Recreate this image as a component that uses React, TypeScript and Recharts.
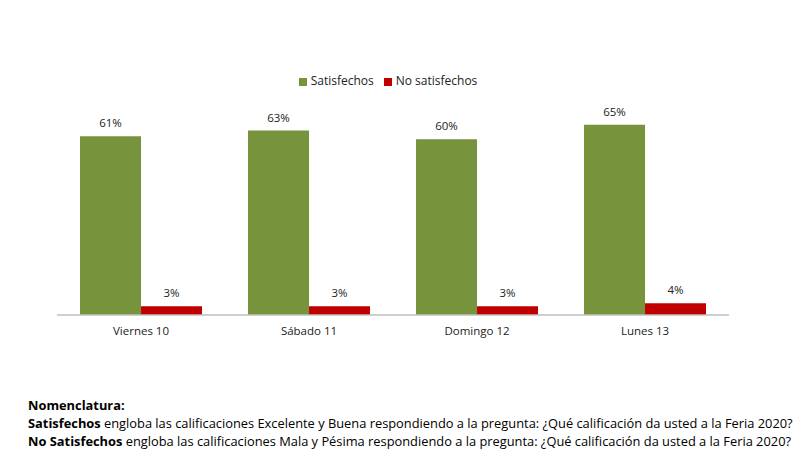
import { BarChart, Bar, XAxis, YAxis, Legend, LabelList } from 'recharts'

const DAYS = ['Viernes 10', 'Sábado 11', 'Domingo 12', 'Lunes 13']
const SATISFECHOS = [61, 63, 60, 65]
const NO_SATISFECHOS = [3, 3, 3, 4]

const GREEN = '#77933C'
const RED = '#C00000'
const FONT = '"Open Sans", "Noto Sans", sans-serif'

// keys picked so the legend's dataKey sort keeps Satisfechos first
const data = DAYS.map((day, i) => ({
  day,
  sat: SATISFECHOS[i],
  unsat: NO_SATISFECHOS[i],
}))

const labelStyle = { fill: '#222', fontSize: 11.5, fontFamily: FONT }

export default function App() {
  return (
    <div
      style={{
        position: 'absolute',
        top: 0,
        left: 0,
        width: 809,
        height: 467,
        background: '#fff',
        fontFamily: FONT,
      }}
    >
      <BarChart
        width={809}
        height={360}
        data={data}
        margin={{ top: 93, right: 80, bottom: 15, left: 57 }}
        barGap={0}
        barCategoryGap="13.7%"
      >
        <XAxis
          dataKey="day"
          axisLine={{ stroke: '#BFBFBF', strokeWidth: 1.5 }}
          tickLine={false}
          tickSize={0}
          tickMargin={12}
          tick={{ fill: '#222', fontSize: 11.5, fontFamily: FONT }}
          height={30}
        />
        <YAxis hide domain={[0, 70]} />
        <Legend
          verticalAlign="top"
          align="center"
          iconType="square"
          iconSize={8}
          itemSorter="dataKey"
          wrapperStyle={{ position: 'absolute', top: 72, fontSize: 12, fontFamily: FONT }}
          formatter={(value: string) => <span style={{ color: '#222' }}>{value}</span>}
        />
        <Bar dataKey="sat" name="Satisfechos" fill={GREEN} isAnimationActive={false}>
          <LabelList dataKey="sat" position="top" offset={9} formatter={(v: number) => `${v}%`} style={labelStyle} />
        </Bar>
        <Bar dataKey="unsat" name="No satisfechos" fill={RED} isAnimationActive={false}>
          <LabelList dataKey="unsat" position="top" offset={9} formatter={(v: number) => `${v}%`} style={labelStyle} />
        </Bar>
      </BarChart>
      <div style={{ position: 'absolute', left: 28, top: 396, fontSize: 12.85, lineHeight: '18px', color: '#000', whiteSpace: 'nowrap' }}>
        <div style={{ fontWeight: 700 }}>Nomenclatura:</div>
        <div>
          <b>Satisfechos</b> engloba las calificaciones Excelente y Buena respondiendo a la pregunta: ¿Qué calificación da usted a la Feria 2020?
        </div>
        <div>
          <b>No Satisfechos</b> engloba las calificaciones Mala y Pésima respondiendo a la pregunta: ¿Qué calificación da usted a la Feria 2020?
        </div>
      </div>
    </div>
  )
}
